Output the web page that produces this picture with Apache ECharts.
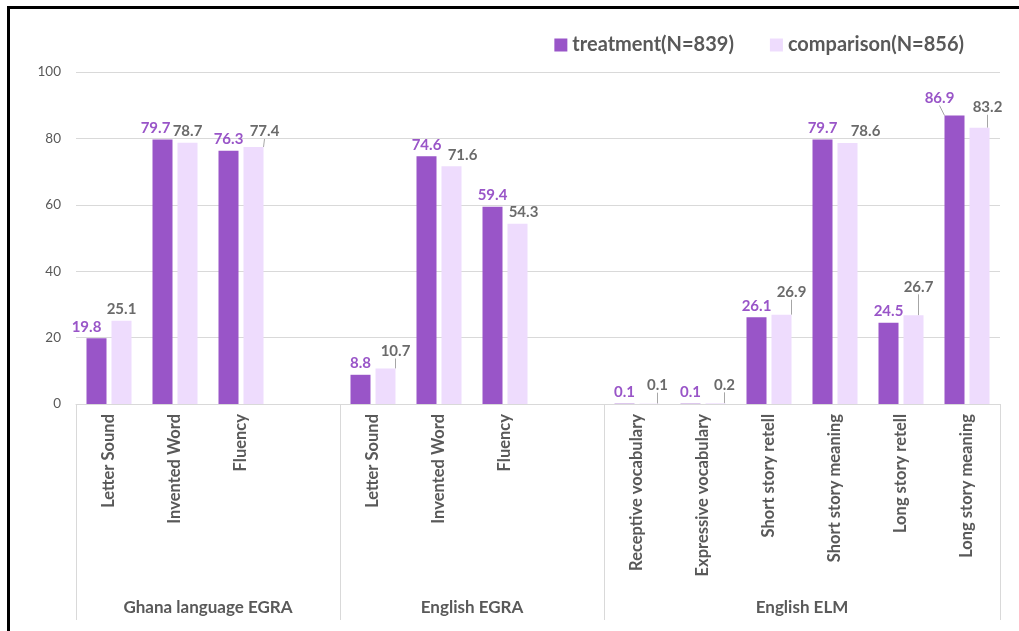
<!DOCTYPE html>
<html>
<head>
<meta charset="utf-8">
<script src="https://cdn.jsdelivr.net/npm/echarts@6/dist/echarts.min.js"></script>
<style>
html,body{margin:0;padding:0;background:#fff;}
#chart{position:absolute;left:0;top:0;width:1019px;height:631px;}
#frame{position:absolute;left:7px;top:6px;width:1100px;height:700px;border-top:3px solid #000;border-left:3px solid #000;pointer-events:none;}
</style>
</head>
<body>
<div id="chart"></div>
<div id="frame"></div>
<script>
// ---- data ----
const groupNames = ['Ghana language EGRA', 'English EGRA', 'English ELM'];
const groupItems = [
  ['Letter Sound', 'Invented Word', 'Fluency'],
  ['Letter Sound', 'Invented Word', 'Fluency'],
  ['Receptive vocabulary', 'Expressive vocabulary', 'Short story retell', 'Short story meaning', 'Long story retell', 'Long story meaning']
];
const treatmentValues = [
  [19.8, 79.7, 76.3],
  [8.8, 74.6, 59.4],
  [0.1, 0.1, 26.1, 79.7, 24.5, 86.9]
];
const comparisonValues = [
  [25.1, 78.7, 77.4],
  [10.7, 71.6, 54.3],
  [0.1, 0.2, 26.9, 78.6, 26.7, 83.2]
];
const seriesNames = ['treatment(N=839)', 'comparison(N=856)'];
const yTicks = [0, 20, 40, 60, 80, 100];

// ---- build flat category list with one blank slot between groups ----
const categories = [];
const tFlat = [];
const cFlat = [];
const boundaries = [0];
const groupCenters = [];
groupItems.forEach((items, g) => {
  const start = categories.length;
  items.forEach((name, i) => {
    categories.push(name);
    tFlat.push(treatmentValues[g][i]);
    cFlat.push(comparisonValues[g][i]);
  });
  if (g < groupItems.length - 1) {
    categories.push('');
    tFlat.push(null);
    cFlat.push(null);
  }
  const end = categories.length;
  boundaries.push(end);
  groupCenters.push((start + end) / 2);
});
const nCat = categories.length;

// label nudges (layout only): [dx, dy, leader]
const tShift = {0: [-10, 0, 0], 1: [-7, 0, 0], 13: [-15, -6, 1]};
const cShift = {2: [11, -4, 1], 4: [10, -6, 1], 5: [11, 0, 0], 6: [6, 0, 0], 8: [8, -7, 1], 9: [9, -7, 1],
                10: [10, -11, 1], 11: [18, 0, 0], 12: [5, -17, 1], 13: [8, -9, 1]};

function items(arr, shift) {
  return arr.map((v, i) => {
    if (v === null) return null;
    const s = shift[i];
    return {value: v, labelLine: {show: !!(s && s[2])}};
  });
}
function layoutFn(shift) {
  return function (p) {
    const s = shift[p.dataIndex];
    if (!s) return {};
    return {dx: s[0], dy: s[1]};
  };
}

const FONT = 'Lato, "Open Sans", sans-serif';
const PURPLE = '#9955C8';
const LIGHT = '#EEDCFD';
const GRAY = '#595959';

const chart = echarts.init(document.getElementById('chart'), null, {renderer: 'canvas'});
chart.setOption({
  animation: false,
  textStyle: {fontFamily: FONT},
  legend: {
    data: seriesNames,
    right: 50,
    top: 30,
    icon: 'rect',
    itemWidth: 13,
    itemHeight: 13,
    itemGap: 36,
    textStyle: {fontSize: 20, fontWeight: 'bold', color: '#595959', fontFamily: FONT}
  },
  grid: {left: 76, right: 19, top: 72, bottom: 227, containLabel: false},
  xAxis: [
    {
      type: 'category',
      data: categories,
      axisLine: {show: true, lineStyle: {color: '#d9d9d9', width: 1}},
      axisTick: {show: false},
      axisLabel: {interval: 0, rotate: 90, margin: 10, fontSize: 16.5, fontWeight: 'bold', color: GRAY, fontFamily: FONT},
      splitLine: {show: false}
    },
    {
      type: 'value',
      min: 0,
      max: nCat,
      position: 'bottom',
      axisLine: {show: false},
      splitLine: {show: false},
      axisTick: {show: true, customValues: boundaries, length: 216, lineStyle: {color: '#d9d9d9', width: 1}},
      axisLabel: {
        show: true,
        customValues: groupCenters,
        margin: 195,
        fontSize: 17,
        fontWeight: 'bold',
        color: GRAY,
        fontFamily: FONT,
        formatter: function (v) {
          const idx = groupCenters.findIndex(c => Math.abs(c - v) < 1e-6);
          return idx >= 0 ? groupNames[idx] : '';
        }
      }
    }
  ],
  yAxis: {
    type: 'value',
    min: yTicks[0],
    max: yTicks[yTicks.length - 1],
    interval: yTicks[1] - yTicks[0],
    axisLine: {show: false},
    axisTick: {show: false},
    axisLabel: {color: GRAY, fontSize: 13.5, margin: 15, fontFamily: FONT},
    splitLine: {lineStyle: {color: '#d9d9d9', width: 1}}
  },
  series: [
    {
      name: seriesNames[0],
      type: 'bar',
      xAxisIndex: 0,
      data: items(tFlat, tShift),
      barWidth: 20,
      barGap: '25%',
      itemStyle: {color: PURPLE},
      label: {show: true, position: 'top', distance: 4, fontSize: 15, fontWeight: 'bold', color: PURPLE, fontFamily: FONT},
      labelLine: {show: false, lineStyle: {color: '#a6a6a6', width: 1}},
      labelLayout: layoutFn(tShift)
    },
    {
      name: seriesNames[1],
      type: 'bar',
      xAxisIndex: 0,
      data: items(cFlat, cShift),
      barWidth: 20,
      barGap: '25%',
      itemStyle: {color: LIGHT},
      label: {show: true, position: 'top', distance: 4, fontSize: 15, fontWeight: 'bold', color: '#6b6b6b', fontFamily: FONT},
      labelLine: {show: false, lineStyle: {color: '#a6a6a6', width: 1}},
      labelLayout: layoutFn(cShift)
    }
  ]
});
</script>
</body>
</html>
